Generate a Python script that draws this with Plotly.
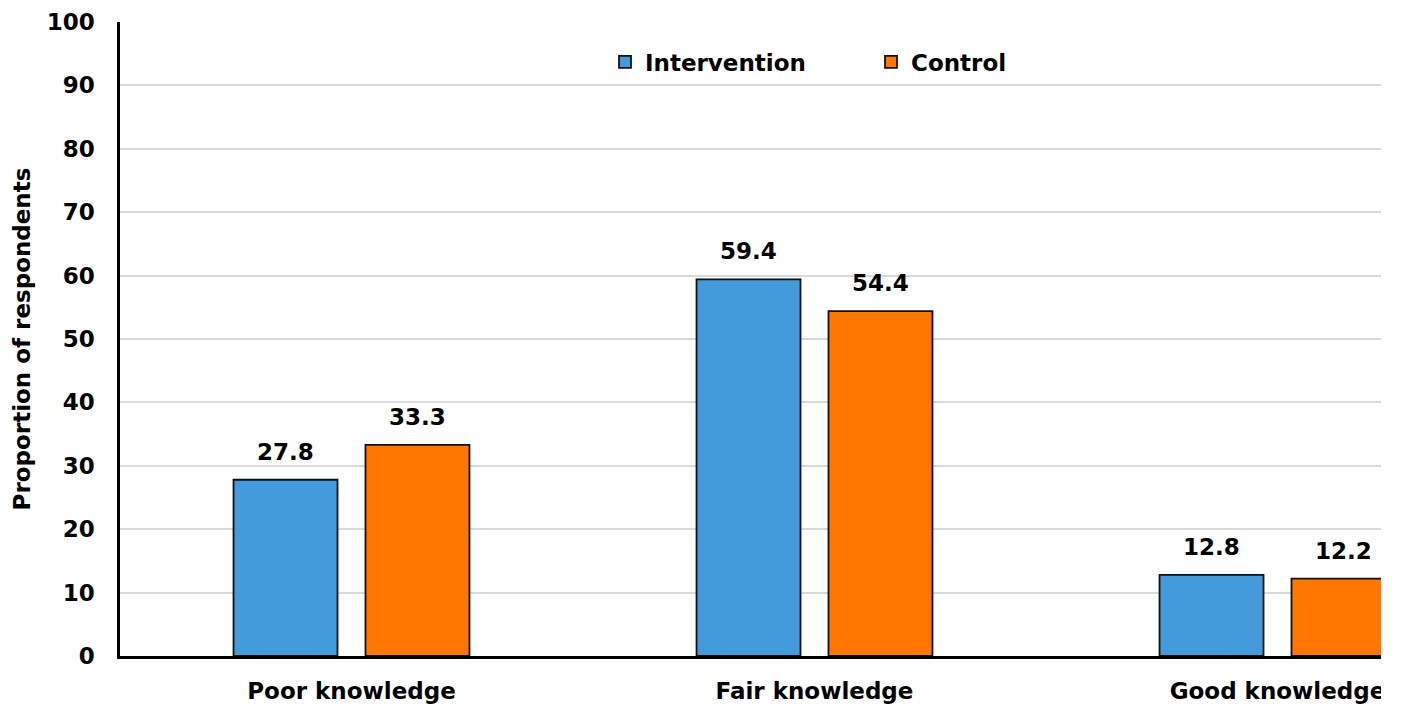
import plotly.graph_objects as go

# Knowledge level categories and share of respondents (%) per study arm
categories = ["Poor knowledge", "Fair knowledge", "Good knowledge"]
intervention = [27.8, 59.4, 12.8]
control = [33.3, 54.4, 12.2]
y_ticks = [0, 10, 20, 30, 40, 50, 60, 70, 80, 90, 100]

FONT = "DejaVu Sans"
BLUE = "#439BDB"
ORANGE = "#FF7700"
FS = 23

W, H = 1401, 709
M_L, M_R, M_T, M_B = 120, 20, 22, 53
CAT_PX = 463  # width of one category slot in pixels

fig = go.Figure()
fig.add_trace(go.Bar(name="<b>Intervention</b>", x=categories, y=intervention,
                     marker=dict(color=BLUE, line=dict(color="#111111", width=1.8))))
fig.add_trace(go.Bar(name="<b>Control</b>", x=categories, y=control,
                     marker=dict(color=ORANGE, line=dict(color="#111111", width=1.8))))

# value labels above each bar
bargap = 0.43
slot = CAT_PX * (1 - bargap) / 2
for vals, shift in ((intervention, -slot / 2), (control, slot / 2)):
    for c, v in zip(categories, vals):
        fig.add_annotation(x=c, y=v, text=f"<b>{v}</b>", showarrow=False,
                           xshift=shift, yshift=28, yanchor="middle",
                           font=dict(family=FONT, size=FS, color="#000000"))

plot_w = W - M_L - M_R
plot_h = H - M_T - M_B
x_hi = -0.5 + plot_w / CAT_PX

# the chart is trimmed at the right edge of the plotting area
fig.add_shape(type="rect", xref="paper", yref="paper", layer="above",
              x0=1.0, x1=(W - M_L + 5) / plot_w,
              y0=-(M_B + 5) / plot_h, y1=-3 / plot_h,
              fillcolor="white", line=dict(width=0))

fig.update_layout(
    width=W, height=H,
    margin=dict(l=M_L, r=M_R, t=M_T, b=M_B, pad=0),
    paper_bgcolor="white", plot_bgcolor="white",
    barmode="group", bargap=bargap, bargroupgap=0.212,
    font=dict(family=FONT, color="#000000"),
    showlegend=True,
    legend=dict(orientation="h", x=(605 - M_L) / plot_w, xanchor="left",
                y=(656 - 62) / plot_h, yanchor="middle",
                entrywidth=221, entrywidthmode="pixels",
                font=dict(family=FONT, size=FS, color="#000000"),
                bgcolor="rgba(0,0,0,0)", itemclick=False),
    xaxis=dict(range=[-0.5, x_hi], showline=True, linecolor="#000000", linewidth=3,
               automargin=False,
               ticks="", tickfont=dict(family=FONT, size=FS, color="#000000"),
               ticklabelstandoff=12,
               tickvals=categories, ticktext=[f"<b>{c}</b>" for c in categories]),
    yaxis=dict(range=[0, 100], tickvals=y_ticks, automargin=False,
               ticktext=[f"<b>{t}</b>" for t in y_ticks],
               showline=True, linecolor="#000000", linewidth=2.5,
               showgrid=True, gridcolor="#d9d9d9", gridwidth=2,
               zeroline=False, ticks="", ticklabelstandoff=18,
               tickfont=dict(family=FONT, size=FS, color="#000000"),
               title=dict(text="<b>Proportion of respondents</b>", standoff=10,
                          font=dict(family=FONT, size=FS, color="#000000"))),
)

fig.write_html("out.html")
